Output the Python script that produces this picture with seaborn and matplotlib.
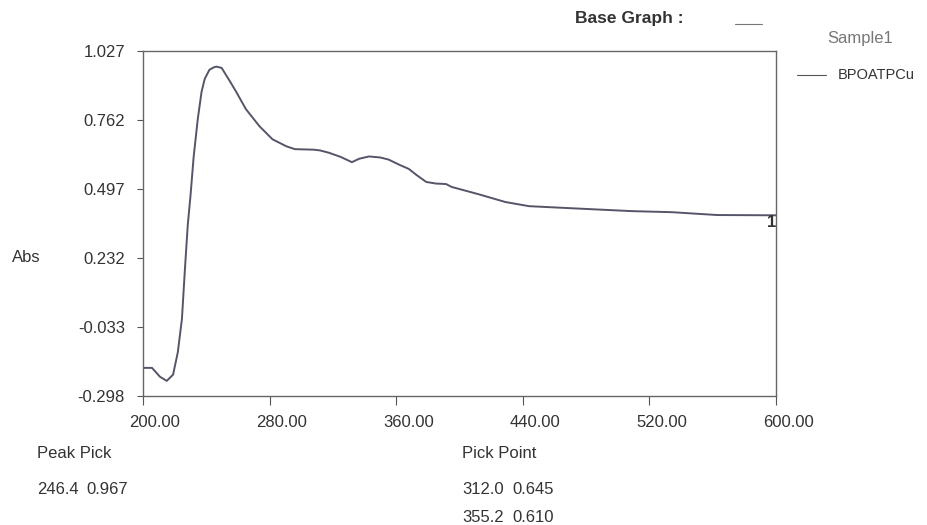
import matplotlib
matplotlib.use("Agg")
import matplotlib.pyplot as plt
import matplotlib.transforms as mtransforms
import seaborn as sns
import pandas as pd

wavelength = [200, 205.7, 210.7, 215, 219, 222, 224.6, 226.5, 228.3, 230, 232, 234.6, 237, 239, 242, 245,
              246.4, 249.7, 255, 259, 265, 273.6, 281.8, 290.6, 296, 308, 312, 317.6, 325, 332, 336.5,
              342.8, 350, 355.2, 362, 368, 373, 379, 385, 391.5, 395, 412, 429, 444, 471, 509, 534, 563, 600]
absorbance = [-0.19, -0.19, -0.224, -0.24, -0.216, -0.13, -0.002, 0.19, 0.36, 0.47, 0.62, 0.765, 0.87, 0.92,
              0.955, 0.965, 0.967, 0.962, 0.91, 0.869, 0.804, 0.738, 0.688, 0.661, 0.65, 0.648, 0.645,
              0.636, 0.62, 0.60, 0.613, 0.622, 0.618, 0.610, 0.59, 0.574, 0.55, 0.524, 0.518, 0.516,
              0.505, 0.477, 0.447, 0.431, 0.423, 0.412, 0.408, 0.397, 0.396]
x_ticks = [200, 280, 360, 440, 520, 600]
y_ticks = [-0.298, -0.033, 0.232, 0.497, 0.762, 1.027]
sample_name = "BPOATPCu"
peak_pick = [("246.4", "0.967")]
pick_point = [("312.0", "0.645"), ("355.2", "0.610")]

sns.set_style("white")
plt.rcParams['font.family'] = ['Liberation Sans', 'DejaVu Sans']

fig = plt.figure(figsize=(9.27, 5.25), dpi=100)
ax = fig.add_axes([143/927, 1-396/525, (776-143)/927, (396-51)/525])

df = pd.DataFrame({"wl": wavelength, "abs": absorbance})
line_col = "#55556a"
sns.lineplot(data=df, x="wl", y="abs", ax=ax, color=line_col, linewidth=1.4)

ax.set_xlim(200, 600)
ax.set_ylim(-0.298, 1.027)
ax.set_xticks(x_ticks)
ax.set_xticklabels([f"{v:.2f}" for v in x_ticks])
ax.set_yticks(y_ticks)
ax.set_yticklabels([f"{v:.3f}" for v in y_ticks])
ax.set_xlabel("")
ax.set_ylabel("")
for s in ax.spines.values():
    s.set_color("#666666")
    s.set_linewidth(1.0)
ax.tick_params(axis="x", direction="out", length=6.5, width=0.8, color="#555555",
               labelsize=12, labelcolor="#333333", pad=7)
ax.tick_params(axis="y", direction="out", length=4, width=0.8, color="#555555",
               labelsize=12, labelcolor="#333333", pad=9)
ax.tick_params(bottom=True, left=True)
shift = mtransforms.ScaledTranslation(12/100, 0, fig.dpi_scale_trans)
for lab in ax.get_xticklabels():
    lab.set_transform(lab.get_transform() + shift)

ax.text(597, 0.37, "1", ha="center", va="center", fontsize=12, fontweight="bold", color="#333333")

fig.text(12/927, 1-258/525, "Abs", fontsize=12, color="#333333", va="center")
fig.text(575/927, 1-18/525, "Base Graph :", fontsize=12.5, fontweight="bold", color="#333333",
         va="center")
fig.add_artist(plt.Line2D([735/927, 762/927], [1-24/525, 1-24/525], color="#777777", linewidth=0.8))
fig.text(827/927, 1-38/525, "Sample1", fontsize=12, color="#777777", va="center")
fig.add_artist(plt.Line2D([797/927, 826/927], [1-75/525, 1-75/525], color="#555555", linewidth=0.8))
fig.text(838/927, 1-75/525, sample_name, fontsize=10.5, color="#333333", va="center")

fig.text(37/927, 1-453/525, "Peak Pick", fontsize=12, color="#333333", va="center")
for i, (w, a) in enumerate(peak_pick):
    fig.text(37/927, 1-(489+i*29)/525, w, fontsize=12, color="#333333", va="center")
    fig.text(86/927, 1-(489+i*29)/525, a, fontsize=12, color="#333333", va="center")
fig.text(462/927, 1-453/525, "Pick Point", fontsize=12, color="#333333", va="center")
for i, (w, a) in enumerate(pick_point):
    fig.text(462/927, 1-(489+i*29)/525, w, fontsize=12, color="#333333", va="center")
    fig.text(512/927, 1-(489+i*29)/525, a, fontsize=12, color="#333333", va="center")

fig.savefig("out.png", dpi=100, facecolor="white")
